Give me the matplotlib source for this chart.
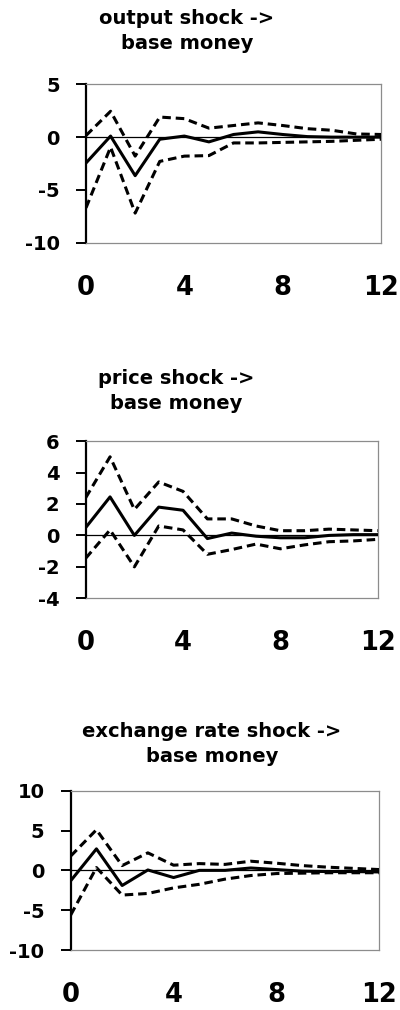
import numpy as np
import matplotlib
matplotlib.use("Agg")
import matplotlib.pyplot as plt

plt.rcParams['font.family'] = ['DejaVu Sans']
plt.rcParams['font.weight'] = 'bold'
plt.rcParams['axes.unicode_minus'] = False

horizon = np.arange(13)
xticks = [0, 4, 8, 12]

titles = ["output shock ->\nbase money",
          "price shock ->\nbase money",
          "exchange rate shock ->\nbase money"]

output_resp = [-2.45, 0.1, -3.65, -0.2, 0.1, -0.45, 0.25, 0.5, 0.25, 0.05, 0.0, 0.0, 0.0]
output_upper = [0.15, 2.45, -1.8, 1.9, 1.75, 0.85, 1.1, 1.35, 1.1, 0.8, 0.65, 0.3, 0.25]
output_lower = [-6.7, -0.95, -7.2, -2.3, -1.8, -1.75, -0.55, -0.55, -0.5, -0.45, -0.4, -0.3, -0.2]

price_resp = [0.5, 2.45, 0.0, 1.8, 1.6, -0.2, 0.15, -0.05, -0.15, -0.15, 0.0, 0.05, 0.05]
price_upper = [2.4, 5.0, 1.65, 3.4, 2.8, 1.05, 1.05, 0.6, 0.3, 0.3, 0.4, 0.35, 0.3]
price_lower = [-1.45, 0.35, -2.0, 0.6, 0.35, -1.2, -0.9, -0.55, -0.85, -0.6, -0.4, -0.35, -0.25]

exrate_resp = [-1.3, 2.7, -1.9, 0.05, -0.9, 0.0, 0.0, 0.3, 0.1, -0.1, -0.15, -0.15, -0.2]
exrate_upper = [1.8, 5.1, 0.6, 2.2, 0.65, 0.85, 0.75, 1.15, 0.9, 0.6, 0.4, 0.25, 0.1]
exrate_lower = [-5.6, 0.35, -3.1, -2.9, -2.2, -1.75, -1.1, -0.65, -0.4, -0.35, -0.3, -0.3, -0.3]

yticks = [[-10, -5, 0, 5], [-4, -2, 0, 2, 4, 6], [-10, -5, 0, 5, 10]]

panels = [(output_resp, output_upper, output_lower),
          (price_resp, price_upper, price_lower),
          (exrate_resp, exrate_upper, exrate_lower)]

# axes rectangles [left, bottom, width, height] in figure fraction
rects = [[0.215, 0.7597, 0.7375, 0.1568],
         [0.2143, 0.4076, 0.730, 0.1557],
         [0.1768, 0.0594, 0.7715, 0.1577]]
title_pos = [(0.4675, 0.9690), (0.44, 0.6132), (0.53, 0.2637)]

fig = plt.figure(figsize=(4, 10.1), dpi=100)

for i, (resp, upper, lower) in enumerate(panels):
    ax = fig.add_axes(rects[i])
    ax.axhline(0, color='black', lw=0.9, zorder=1)
    ax.plot(horizon, upper, color='black', lw=2.2, ls=(0, (2.8, 1.6)), zorder=3)
    ax.plot(horizon, lower, color='black', lw=2.2, ls=(0, (2.8, 1.6)), zorder=3)
    ax.plot(horizon, resp, color='black', lw=2.2, zorder=4)

    ax.set_xlim(0, 12)
    ax.set_ylim(yticks[i][0], yticks[i][-1])
    ax.set_xticks(xticks)
    ax.set_yticks(yticks[i])

    for side in ['top', 'right', 'bottom']:
        ax.spines[side].set_color('#8c8c8c')
        ax.spines[side].set_linewidth(0.9)
    ax.spines['left'].set_color('black')
    ax.spines['left'].set_linewidth(1.6)

    ax.tick_params(axis='y', direction='out', length=7, width=1.4,
                   labelsize=14, pad=12)
    ax.tick_params(axis='x', length=0, labelsize=18.5, pad=23)
    for lab in ax.get_xticklabels() + ax.get_yticklabels():
        lab.set_fontweight('bold')

    fig.text(title_pos[i][0], title_pos[i][1], titles[i], ha='center', va='center',
             fontsize=14, fontweight='bold', linespacing=1.4, multialignment='center')

fig.savefig('out.png', dpi=100)
